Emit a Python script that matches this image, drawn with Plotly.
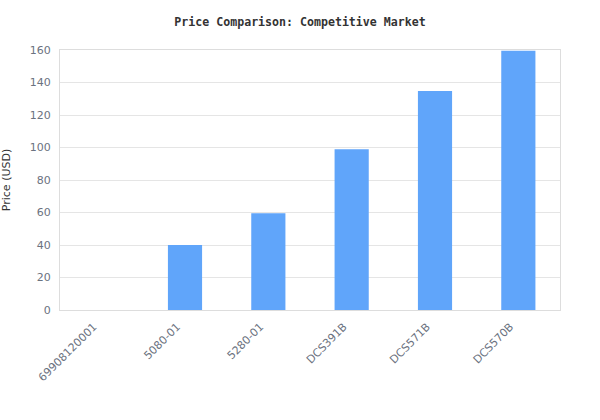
import plotly.graph_objects as go

# modele i ceny
models = ['69908120001', '5080-01', '5280-01', 'DCS391B', 'DCS571B', 'DCS570B']
prices = [0, 40, 59.6, 99, 134.7, 159.6]
y_ticks = [0, 20, 40, 60, 80, 100, 120, 140, 160]

fig = go.Figure(go.Bar(
    x=models,
    y=prices,
    marker=dict(color='#60a5fa', line=dict(width=0)),
    hoverinfo='x+y'))

fig.update_layout(
    width=600, height=420,
    paper_bgcolor='white', plot_bgcolor='white',
    margin=dict(l=60, r=40, t=50, b=110, autoexpand=False),
    bargap=0.59,
    showlegend=False,
    title=dict(text='<b>Price Comparison: Competitive Market</b>',
               x=0.5, xanchor='center', y=0.947, yanchor='middle',
               font=dict(family='DejaVu Sans Mono', size=11.6, color='#333333')),
    font=dict(family='DejaVu Sans', size=11, color='#6b7280'))

fig.update_xaxes(
    tickangle=-45, showgrid=False, showline=True, mirror=True,
    linecolor='#dddddd', linewidth=1, ticks='', automargin=False,
    ticklabelstandoff=5, ticklabelshift=-8,
    tickfont=dict(size=11, color='#6b7280'))

fig.update_yaxes(
    range=[0, 160], tickvals=y_ticks, showgrid=True, gridcolor='#e5e5e5',
    showline=True, mirror=True, linecolor='#dddddd', linewidth=1,
    zeroline=False, ticks='', automargin=False, ticklabelstandoff=6,
    title=dict(text='Price (USD)', font=dict(size=11, color='#333333'), standoff=18),
    tickfont=dict(size=11, color='#6b7280'))

# strona bez marginesu, żeby wykres zaczynał się w rogu okna
fig.write_html('out.html', config={'displayModeBar': False},
               post_script="document.body.style.margin='0';")
